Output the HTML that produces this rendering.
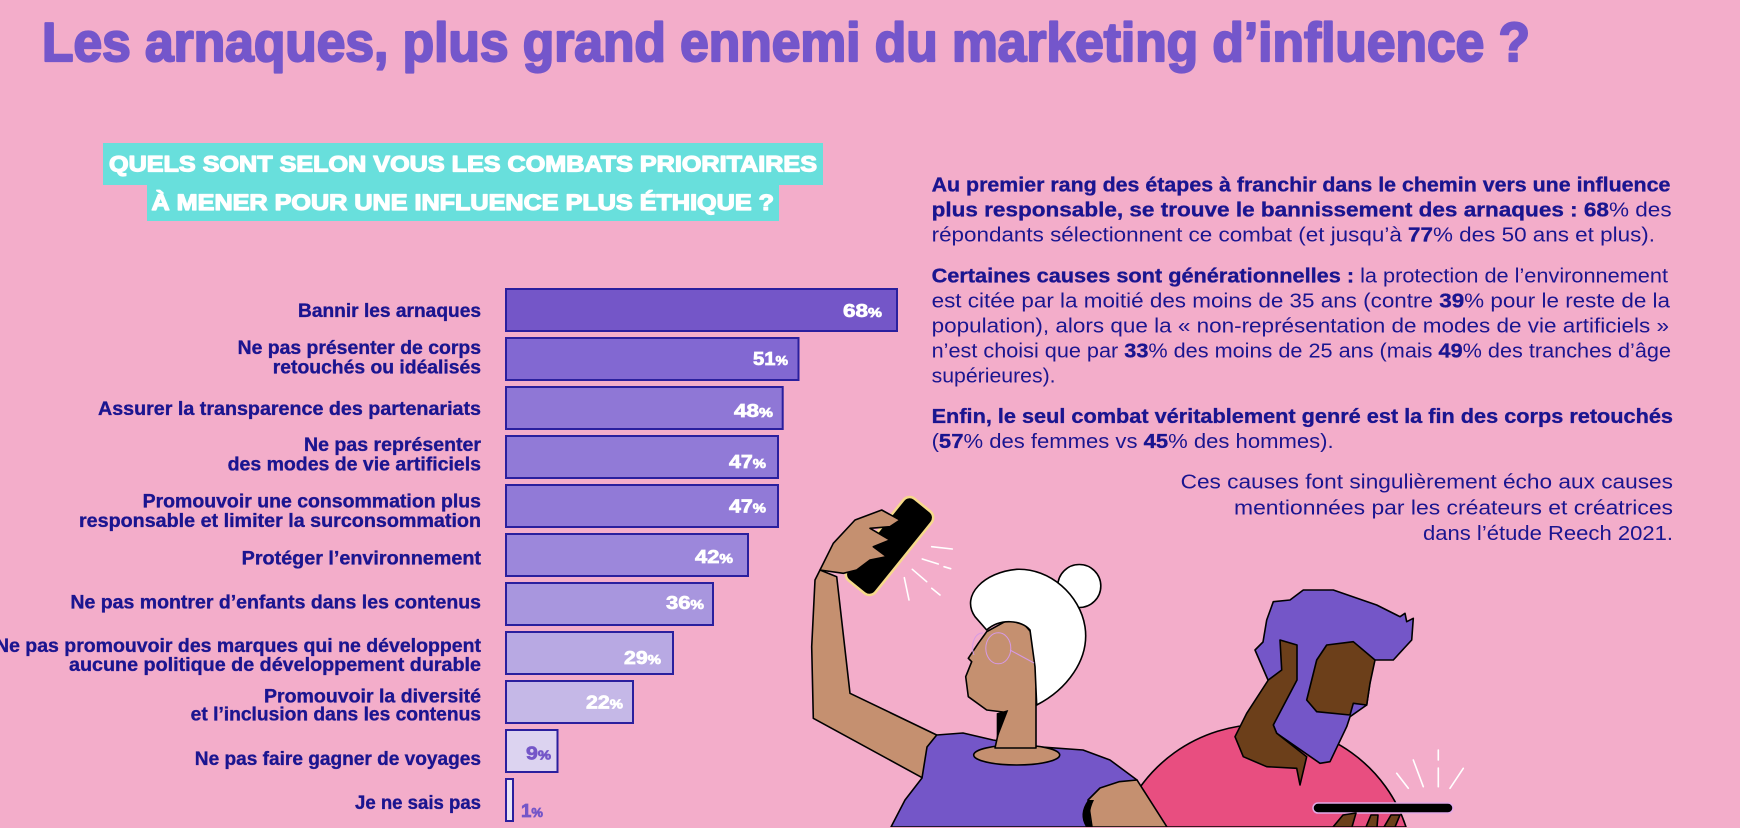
<!DOCTYPE html>
<html>
<head>
<meta charset="utf-8">
<style>
html,body{margin:0;padding:0;background:#f3adca;width:1740px;height:828px;overflow:hidden;}
svg{display:block;}
.lab{font-family:"Liberation Sans",sans-serif;font-weight:bold;font-size:19px;fill:#1b1590;stroke:#1b1590;stroke-width:0.35;}
.pct{font-family:"Liberation Sans",sans-serif;font-weight:bold;fill:#ffffff;stroke:#ffffff;stroke-width:0.7;}
.pctp{font-family:"Liberation Sans",sans-serif;font-weight:bold;fill:#7456c8;stroke:#7456c8;stroke-width:0.7;}
.body{font-family:"Liberation Sans",sans-serif;font-size:20.5px;fill:#1a1590;}
.b{font-weight:bold;stroke:#1a1590;stroke-width:0.35;}
</style>
</head>
<body>
<svg width="1740" height="828" viewBox="0 0 1740 828" xmlns="http://www.w3.org/2000/svg" overflow="hidden">
<defs><clipPath id="frame"><rect x="0" y="0" width="1740" height="827"/></clipPath></defs>
<rect x="0" y="0" width="1740" height="828" fill="#f3adca"/>

<!-- Title -->
<text x="42" y="61" font-family="Liberation Sans, sans-serif" font-weight="bold" font-size="55" fill="#7456cb" stroke="#7456cb" stroke-width="2.2" stroke-linejoin="round" textLength="1488" lengthAdjust="spacingAndGlyphs">Les arnaques, plus grand ennemi du marketing d’influence ?</text>

<!-- Heading box -->
<rect x="103" y="143" width="720" height="42" fill="#68dfdc"/>
<rect x="147" y="184" width="632" height="37" fill="#68dfdc"/>
<text x="109" y="171.5" font-family="Liberation Sans, sans-serif" font-weight="bold" font-size="22" fill="#fff" stroke="#fff" stroke-width="1.2" stroke-linejoin="round" textLength="708" lengthAdjust="spacingAndGlyphs">QUELS SONT SELON VOUS LES COMBATS PRIORITAIRES</text>
<text x="151.5" y="210" font-family="Liberation Sans, sans-serif" font-weight="bold" font-size="22" fill="#fff" stroke="#fff" stroke-width="1.2" stroke-linejoin="round" textLength="622.5" lengthAdjust="spacingAndGlyphs">À MENER POUR UNE INFLUENCE PLUS ÉTHIQUE ?</text>

<!-- Bars -->
<g stroke="#2a1f9e" stroke-width="2">
<rect x="506" y="289" width="391" height="42" fill="#7456c8"/>
<rect x="506" y="338" width="292.5" height="42" fill="#8268d2"/>
<rect x="506" y="387" width="276.7" height="42" fill="#8f77d6"/>
<rect x="506" y="436" width="272" height="42" fill="#917ad7"/>
<rect x="506" y="485" width="272" height="42" fill="#917ad7"/>
<rect x="506" y="534" width="242" height="42" fill="#9c87db"/>
<rect x="506" y="583" width="207" height="42" fill="#a896de"/>
<rect x="506" y="632" width="167" height="42" fill="#b8a9e3"/>
<rect x="506" y="681" width="127" height="42" fill="#c5b8e7"/>
<rect x="506" y="730" width="51.5" height="42" fill="#dcd3f0"/>
<rect x="506" y="779" width="7" height="42" fill="#e9e6f4"/>
</g>

<!-- Percentages -->
<text class="pct" x="882" y="317" text-anchor="end" textLength="39" lengthAdjust="spacingAndGlyphs"><tspan font-size="18">68</tspan><tspan font-size="12.5">%</tspan></text>
<text class="pct" x="788" y="365" text-anchor="end" textLength="35" lengthAdjust="spacingAndGlyphs"><tspan font-size="18">51</tspan><tspan font-size="12.5">%</tspan></text>
<text class="pct" x="773" y="417" text-anchor="end" textLength="39" lengthAdjust="spacingAndGlyphs"><tspan font-size="18">48</tspan><tspan font-size="12.5">%</tspan></text>
<text class="pct" x="766" y="468" text-anchor="end" textLength="37" lengthAdjust="spacingAndGlyphs"><tspan font-size="18">47</tspan><tspan font-size="12.5">%</tspan></text>
<text class="pct" x="766" y="512.5" text-anchor="end" textLength="37" lengthAdjust="spacingAndGlyphs"><tspan font-size="18">47</tspan><tspan font-size="12.5">%</tspan></text>
<text class="pct" x="733" y="563" text-anchor="end" textLength="38" lengthAdjust="spacingAndGlyphs"><tspan font-size="18">42</tspan><tspan font-size="12.5">%</tspan></text>
<text class="pct" x="704" y="609" text-anchor="end" textLength="38" lengthAdjust="spacingAndGlyphs"><tspan font-size="18">36</tspan><tspan font-size="12.5">%</tspan></text>
<text class="pct" x="661" y="664" text-anchor="end" textLength="37" lengthAdjust="spacingAndGlyphs"><tspan font-size="18">29</tspan><tspan font-size="12.5">%</tspan></text>
<text class="pct" x="623" y="708.5" text-anchor="end" textLength="37" lengthAdjust="spacingAndGlyphs"><tspan font-size="18">22</tspan><tspan font-size="12.5">%</tspan></text>
<text class="pctp" x="551" y="759.5" text-anchor="end" textLength="25" lengthAdjust="spacingAndGlyphs"><tspan font-size="18">9</tspan><tspan font-size="12.5">%</tspan></text>
<text class="pctp" x="543" y="817" text-anchor="end" textLength="22" lengthAdjust="spacingAndGlyphs"><tspan font-size="18">1</tspan><tspan font-size="12.5">%</tspan></text>

<!-- Labels -->
<g class="lab" text-anchor="end">
<text x="481" y="317" textLength="183" lengthAdjust="spacingAndGlyphs">Bannir les arnaques</text>
<text x="481" y="354" textLength="243.4" lengthAdjust="spacingAndGlyphs">Ne pas présenter de corps</text>
<text x="481" y="373.5" textLength="208.2" lengthAdjust="spacingAndGlyphs">retouchés ou idéalisés</text>
<text x="481" y="415" textLength="383" lengthAdjust="spacingAndGlyphs">Assurer la transparence des partenariats</text>
<text x="481" y="451" textLength="177" lengthAdjust="spacingAndGlyphs">Ne pas représenter</text>
<text x="481" y="470.5" textLength="253.4" lengthAdjust="spacingAndGlyphs">des modes de vie artificiels</text>
<text x="481" y="507.5" textLength="338.4" lengthAdjust="spacingAndGlyphs">Promouvoir une consommation plus</text>
<text x="481" y="527" textLength="402" lengthAdjust="spacingAndGlyphs">responsable et limiter la surconsommation</text>
<text x="481" y="564.5" textLength="239.3" lengthAdjust="spacingAndGlyphs">Protéger l’environnement</text>
<text x="481" y="608.5" textLength="410.6" lengthAdjust="spacingAndGlyphs">Ne pas montrer d’enfants dans les contenus</text>
<text x="481" y="652" textLength="486" lengthAdjust="spacingAndGlyphs">Ne pas promouvoir des marques qui ne développent</text>
<text x="481" y="671" textLength="412" lengthAdjust="spacingAndGlyphs">aucune politique de développement durable</text>
<text x="481" y="702.5" textLength="217" lengthAdjust="spacingAndGlyphs">Promouvoir la diversité</text>
<text x="481" y="720.5" textLength="290.3" lengthAdjust="spacingAndGlyphs">et l’inclusion dans les contenus</text>
<text x="481" y="765" textLength="286.2" lengthAdjust="spacingAndGlyphs">Ne pas faire gagner de voyages</text>
<text x="481" y="809" textLength="126" lengthAdjust="spacingAndGlyphs">Je ne sais pas</text>
</g>

<!-- Right paragraphs -->
<g class="body">
<text x="931.6" y="191.5" class="b" textLength="738.8" lengthAdjust="spacingAndGlyphs">Au premier rang des étapes à franchir dans le chemin vers une influence</text>
<text x="931.6" y="216.5" textLength="740" lengthAdjust="spacingAndGlyphs"><tspan class="b">plus responsable, se trouve le bannissement des arnaques : 68</tspan>% des</text>
<text x="931.6" y="241.5" textLength="723.4" lengthAdjust="spacingAndGlyphs">répondants sélectionnent ce combat (et jusqu’à <tspan class="b">77</tspan>% des 50 ans et plus).</text>

<text x="931.6" y="282.5" textLength="736.4" lengthAdjust="spacingAndGlyphs"><tspan class="b">Certaines causes sont générationnelles :</tspan> la protection de l’environnement</text>
<text x="931.6" y="307.5" textLength="738.4" lengthAdjust="spacingAndGlyphs">est citée par la moitié des moins de 35 ans (contre <tspan class="b">39</tspan>% pour le reste de la</text>
<text x="931.6" y="332.5" textLength="737.4" lengthAdjust="spacingAndGlyphs">population), alors que la « non-représentation de modes de vie artificiels »</text>
<text x="931.6" y="357.5" textLength="739.4" lengthAdjust="spacingAndGlyphs">n’est choisi que par <tspan class="b">33</tspan>% des moins de 25 ans (mais <tspan class="b">49</tspan>% des tranches d’âge</text>
<text x="931.6" y="382.5" textLength="124" lengthAdjust="spacingAndGlyphs">supérieures).</text>

<text x="931.6" y="423" class="b" textLength="741.4" lengthAdjust="spacingAndGlyphs">Enfin, le seul combat véritablement genré est la fin des corps retouchés</text>
<text x="931.6" y="448" textLength="402" lengthAdjust="spacingAndGlyphs">(<tspan class="b">57</tspan>% des femmes vs <tspan class="b">45</tspan>% des hommes).</text>

<text x="1673" y="488.5" text-anchor="end" textLength="492.4" lengthAdjust="spacingAndGlyphs">Ces causes font singulièrement écho aux causes</text>
<text x="1673" y="514.5" text-anchor="end" textLength="439" lengthAdjust="spacingAndGlyphs">mentionnées par les créateurs et créatrices</text>
<text x="1673" y="540" text-anchor="end" textLength="250" lengthAdjust="spacingAndGlyphs">dans l’étude Reech 2021.</text>
</g>

<!-- Illustration -->
<g stroke="#000" stroke-width="1.6" stroke-linejoin="round" clip-path="url(#frame)">
  <!-- Man -->
  <path d="M1120,827 A150,147 0 0 1 1406,827 Z" fill="#e84e80"/>
  <polygon fill="#7456c8" points="1266.7,620 1273.3,601.7 1290,600 1303.3,590 1333.3,590 1376.7,605 1400,616.7 1405,613.3 1406.7,621.7 1413.3,618.3 1411.7,640 1393.3,660 1373.3,660 1366.7,705 1350,716.7 1346.7,726.7 1330,761.7 1320,763.3 1276.7,733.3 1273.3,725 1285,695 1268,680 1255,650 1263,642"/>
  <polygon fill="#6c3f1a" points="1280,640 1297,645 1297,680 1273.3,725 1276.7,733.3 1306.7,756.7 1300,785 1296.7,768.3 1266.7,766.7 1243.3,756.7 1235,736.7 1246.7,713.3 1268.3,680 1281.7,670"/>
  <polygon fill="#6c3f1a" points="1326.7,645 1353.3,641.7 1375,660 1370,683.3 1366.7,705 1353.3,703.3 1350,715 1316.7,711.7 1306.7,700 1316.7,660"/>
  <rect x="1313" y="803" width="140" height="10" rx="5" fill="#000" stroke="#e3a9e8" stroke-width="1.5"/>
  <polygon fill="#6c3f1a" points="1333,827 1343,815 1356,813 1352,827"/>
  <polygon fill="#6c3f1a" points="1366,827 1371,815 1378,815 1377,827"/>
  <polygon fill="#6c3f1a" points="1384,827 1391,815 1400,815 1395,827"/>

  <!-- Woman raised arm -->
  <polygon fill="#c59070" points="820,570 815,580 811.7,646.7 813.3,718.3 923.3,778.3 936.7,735 850,693.3 836.7,576.7"/>
  <rect x="-52.5" y="-18" width="105" height="36" rx="8" fill="#000" stroke="#f6d98a" stroke-width="2.5" transform="translate(889.5 546) rotate(-51.2)"/>
  <polygon fill="#c59070" points="820,570 833.3,543.3 855,520 881.7,510 900,520 890,526.7 870,528.3 890,540 873.3,546.7 886.7,556.7 870,560 856.7,570 843.3,573.3"/>

  <!-- Shirt -->
  <polygon fill="#7456c8" points="936.7,735 963,733 993,740 1036.7,746.7 1083,750 1110,760 1137,780 1160,827 891,827 905,800 922,778 927,747"/>
  <ellipse cx="1016.7" cy="755" rx="43" ry="10" fill="#c59070"/>
  <!-- right arm bottom -->
  <polygon fill="#c59070" points="1088,800 1100,788 1119,781.7 1137,780 1167,827 1092,827"/>
  <path d="M1088,800 Q1078,814 1086,827 L1092,827 Q1087,814 1094,800 Z" fill="#000" stroke="none"/>

  <!-- Bun + hair + face -->
  <circle cx="1079.3" cy="586" r="21.5" fill="#fff"/>
  <polygon fill="#c59070" points="986.7,631.7 1006.7,620.7 1023.3,623.3 1035,636.7 1036.7,661.7 1048.3,656.7 1053.3,666.7 1043.3,683.3 1036,688 1036,748 995,748 1003,712 986.7,710 968.3,696.7 965.7,676.7 971.7,661.7 968.3,658.3 978.3,643.3"/>
  <polygon fill="#000" stroke="none" points="996.7,713.3 1008.3,710 996.7,740"/>
  <path fill="#fff" d="M975,616.7 C960,595 985,572 1016.7,569.3 C1050,568 1080,595 1085,626.7 C1090,660 1066,690 1036.7,705 L1035,666.7 L1030,630 C1022,620 1000,618 986.7,630 Z"/>
</g>
<!-- glasses -->
<g fill="none" stroke="#d69ae6" stroke-width="1">
  <ellipse cx="998.3" cy="648.3" rx="12.5" ry="15.5"/>
  <path d="M983,633 C975,632 970,645 974,655"/>
  <line x1="1010" y1="650" x2="1034" y2="663"/>
</g>
<!-- rays -->
<g stroke="#ffffff" stroke-width="1.6" stroke-linecap="round">
  <line x1="931.7" y1="546.7" x2="952.3" y2="549"/>
  <line x1="922.3" y1="559" x2="938.3" y2="564"/>
  <line x1="944" y1="566.7" x2="950.7" y2="568.7"/>
  <line x1="912.3" y1="569.3" x2="926.7" y2="581.7"/>
  <line x1="931.7" y1="588.3" x2="940" y2="595"/>
  <line x1="904.3" y1="577.7" x2="909" y2="600"/>
  <line x1="1396.7" y1="773.3" x2="1408.3" y2="788.3"/>
  <line x1="1413.3" y1="760" x2="1423.3" y2="786.7"/>
  <line x1="1438.3" y1="750" x2="1438.3" y2="760"/>
  <line x1="1438.3" y1="768" x2="1438.3" y2="786.7"/>
  <line x1="1463.3" y1="768.3" x2="1450" y2="788.3"/>
</g>
</svg>
</body>
</html>
